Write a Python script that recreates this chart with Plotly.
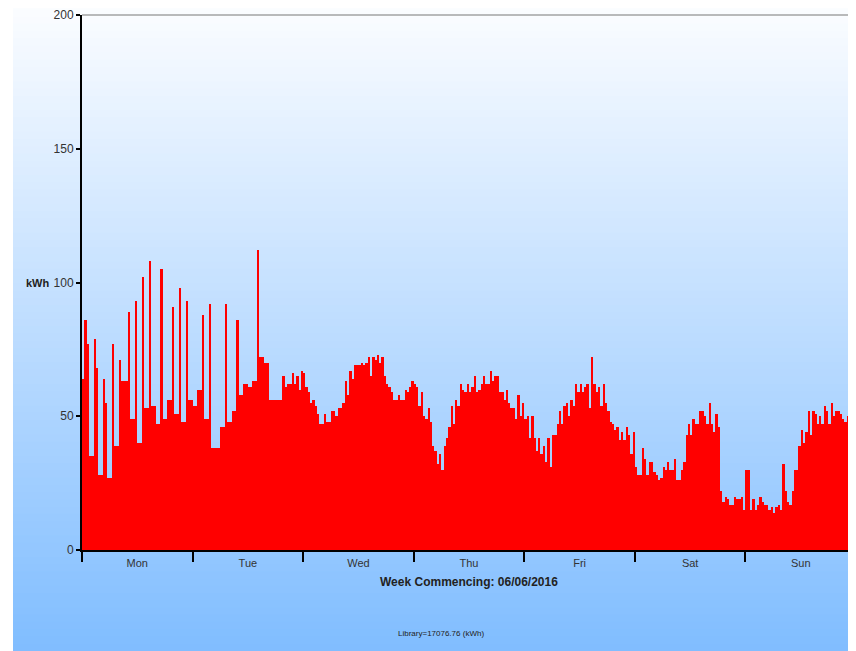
import plotly.graph_objects as go

days = ["Mon", "Tue", "Wed", "Thu", "Fri", "Sat", "Sun"]

mon = [64, 86, 77, 35, 35, 79, 68, 28, 28, 64, 55, 27, 27, 77, 39, 39, 71, 63, 63, 63, 89, 49, 49, 93,
       40, 40, 102, 53, 53, 108, 54, 54, 47, 47, 105, 49, 49, 56, 56, 91, 51, 51, 98, 48, 48, 93, 56, 56]
tue = [54, 54, 60, 60, 88, 49, 49, 92, 38, 38, 38, 38, 46, 46, 92, 48, 48, 52, 52, 86, 58, 58, 62, 62,
       61, 61, 63, 63, 112, 72, 72, 70, 70, 56, 56, 56, 56, 56, 56, 65, 61, 62, 62, 66, 62, 65, 60, 67]
wed = [66, 61, 59, 55, 56, 54, 51, 47, 47, 51, 48, 48, 52, 52, 50, 53, 53, 55, 63, 58, 67, 64, 69, 69,
       69, 70, 69, 70, 72, 65, 72, 71, 73, 70, 72, 65, 62, 61, 59, 56, 56, 58, 56, 56, 60, 59, 61, 63]
thu = [62, 61, 54, 59, 50, 49, 53, 48, 39, 37, 32, 36, 30, 39, 42, 46, 54, 47, 56, 54, 62, 60, 59, 62,
       59, 61, 65, 59, 60, 62, 65, 62, 62, 67, 63, 65, 65, 59, 59, 56, 60, 55, 53, 53, 49, 58, 50, 55]
fri = [49, 50, 42, 50, 42, 37, 42, 36, 39, 33, 42, 31, 43, 43, 47, 52, 47, 54, 55, 50, 56, 54, 62, 59,
       62, 59, 61, 62, 53, 72, 62, 59, 61, 54, 62, 55, 52, 48, 47, 45, 46, 41, 44, 41, 46, 43, 36, 44]
sat = [31, 28, 28, 38, 34, 28, 33, 33, 29, 28, 26, 27, 31, 30, 33, 30, 30, 34, 26, 26, 30, 33, 43, 47,
       43, 49, 47, 47, 52, 52, 50, 47, 55, 47, 44, 51, 46, 22, 18, 20, 19, 17, 17, 20, 19, 19, 20, 15]
sun = [30, 30, 15, 19, 15, 17, 20, 18, 17, 17, 15, 16, 14, 16, 17, 15, 32, 22, 18, 17, 22, 30, 30, 39,
       45, 40, 44, 52, 43, 52, 51, 47, 50, 47, 54, 52, 47, 55, 50, 52, 52, 51, 49, 48, 50, 48, 49, 48]

y_ticks = [0, 50, 100, 150, 200]
x_title = "Week Commencing: 06/06/2016"
footnote = "Library=17076.76 (kWh)"
unit = "kWh"

values = mon + tue + wed + thu + fri + sat + sun
per_day = len(mon)
n = len(values)
xs = [i + 0.5 for i in range(n)]

fig = go.Figure()
fig.add_trace(go.Bar(x=xs, y=values, width=1, marker=dict(color="#FF0000", line=dict(width=0)),
                     hoverinfo="y"))

# page has an 8px body margin; figure coordinates are page - 8
OFF = 8
W, H = 856 - OFF, 651 - OFF
L, R, T = 82 - OFF, 0, 13 - OFF
B = H - (550 - OFF)
pw, ph = W - L - R, H - T - B

def py(y_page):
    return (H - B - (y_page - OFF)) / ph

def px(x_page):
    return ((x_page - OFF) - L) / pw

top_c = (252, 253, 255)
bot_c = (128, 189, 255)
N = 90
shapes = []
for k in range(N):
    y0 = k * 651 / N
    y1 = (k + 1) * 651 / N + 0.8
    t = (k + 0.5) / N
    c = tuple(round(top_c[j] + (bot_c[j] - top_c[j]) * t) for j in range(3))
    shapes.append(dict(type="rect", xref="paper", yref="paper",
                       x0=px(13), x1=px(870), y0=py(y1), y1=py(y0),
                       fillcolor="rgb(%d,%d,%d)" % c, line=dict(width=0), layer="below"))
shapes.append(dict(type="line", xref="paper", yref="paper", x0=0, x1=1, y0=1, y1=1,
                   line=dict(color="#777777", width=1)))
fig.update_layout(shapes=shapes)

fig.update_layout(
    width=W, height=H,
    margin=dict(l=L, r=R, t=T, b=B),
    paper_bgcolor="white",
    plot_bgcolor="rgba(0,0,0,0)",
    bargap=0,
    showlegend=False,
    font=dict(family="Liberation Sans, Arial, sans-serif", color="#333333"),
    xaxis=dict(
        range=[0, n],
        tickmode="array",
        tickvals=[per_day * d + per_day / 2 for d in range(len(days))],
        ticktext=days,
        ticks="outside", ticklen=2, tickcolor="rgba(0,0,0,0)",
        tickfont=dict(size=11, color="#333333"),
        minor=dict(tickmode="linear", tick0=0, dtick=per_day, ticks="outside",
                   ticklen=10, tickwidth=2, tickcolor="black", showgrid=False),
        showline=True, linecolor="black", linewidth=2,
        showgrid=False, zeroline=False, fixedrange=True,
    ),
    yaxis=dict(
        range=[0, 200],
        tickmode="array", tickvals=y_ticks,
        ticks="outside", ticklen=4, tickwidth=2, tickcolor="black",
        tickfont=dict(size=12, color="#333333"),
        ticklabeloverflow="allow",
        showline=True, linecolor="black", linewidth=2,
        showgrid=False, zeroline=False, fixedrange=True,
    ),
    annotations=[
        dict(text="<b>%s</b>" % unit, xref="paper", yref="y", x=px(52), y=100,
             xanchor="right", yanchor="middle", showarrow=False,
             font=dict(size=11, color="#222222")),
        dict(text="<b>%s</b>" % x_title, xref="paper", yref="paper", x=0.5, y=py(582),
             xanchor="center", yanchor="middle", showarrow=False,
             font=dict(size=12, color="#222222")),
        dict(text=footnote, xref="paper", yref="paper", x=px(441), y=py(634),
             xanchor="center", yanchor="middle", showarrow=False,
             font=dict(size=8, color="#222222")),
    ],
)

fig.write_html("out.html")
